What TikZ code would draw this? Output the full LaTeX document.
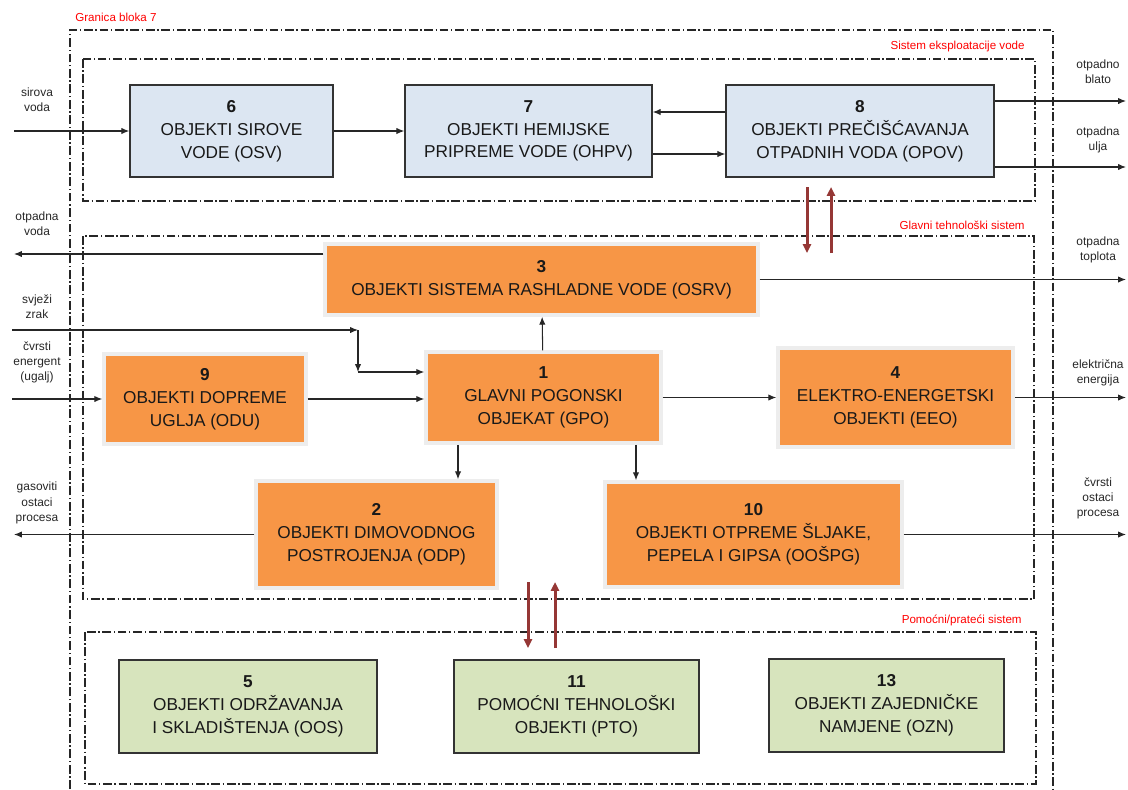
\documentclass[tikz,border=0pt]{standalone}
\usepackage{fontspec}
\setmainfont{Liberation Sans}
\usetikzlibrary{arrows.meta,positioning,shadows}

\definecolor{bluebox}{HTML}{DCE6F2}
\definecolor{orangebox}{HTML}{F79646}
\definecolor{greenbox}{HTML}{D7E4BD}
\definecolor{redarrow}{HTML}{953735}
\newcommand{\objfont}{\fontsize{9.8}{13}\selectfont}
\newcommand{\lblfont}{\fontsize{6.8}{8.6}\selectfont}

\begin{document}
\begin{tikzpicture}[x=0.02cm, y=-0.02cm]

		\tikzstyle{water}=[rectangle, fill=bluebox, draw=black!80, line width=0.8pt, align=center, text=black!90, font=\objfont, inner sep=0pt]
		\tikzstyle{main}=[rectangle, fill=orangebox, draw=black!7, line width=2pt, align=center, text=black!90, font=\objfont, inner sep=0pt, drop shadow={shadow xshift=0.4pt, shadow yshift=-1.3pt, fill=brown!70!black, opacity=0.45}]
		\tikzstyle{aux}=[rectangle, fill=greenbox, draw=black!80, line width=0.8pt, align=center, text=black!90, font=\objfont, inner sep=0pt]
		\tikzstyle{border}=[black!85, line width=0.6pt, dash pattern=on 5pt off 1.5pt on 0.8pt off 1.5pt]
		\tikzstyle{syslabel}=[red, font=\fontsize{6.6}{8}\selectfont, inner sep=0pt]
		\tikzstyle{lbl}=[align=center, text=black!85, font=\lblfont, inner sep=0pt]
		\tikzstyle{flow}=[-{Latex[length=4.5pt, width=3.6pt]}, black!85, line width=0.6pt]
		\tikzstyle{link}=[-{Triangle[length=5pt, width=4.5pt]}, redarrow, line width=1.7pt]

		\useasboundingbox (0,0) rectangle (1128,789);

		% system borders
		\draw[border] (70,789) -- (70,30) -- (1053,30) -- (1053,789);
		\draw[border] (83,59) rectangle (1035,201);
		\draw[border] (83,236) rectangle (1034,599);
		\draw[border] (85,632) rectangle (1036,784);

		\node[syslabel, anchor=west] (lb7) at (75,17) {Granica bloka 7};
		\node[syslabel, anchor=east] (lsev) at (1025,46) {Sistem eksploatacije vode};
		\node[syslabel, anchor=east] (lgts) at (1025,225) {Glavni tehnološki sistem};
		\node[syslabel, anchor=east] (lpps) at (1022,620) {Pomoćni/prateći sistem};

		% water system
		\node[water, minimum width=4.06cm, minimum height=1.84cm] (b6) at (231.5,131) {\textbf{6}\\OBJEKTI SIROVE\\VODE (OSV)};
		\node[water, minimum width=4.94cm, minimum height=1.84cm] (b7) at (528.5,131) {\textbf{7}\\OBJEKTI HEMIJSKE\\PRIPREME VODE (OHPV)};
		\node[water, minimum width=5.36cm, minimum height=1.84cm] (b8) at (860,131) {\textbf{8}\\OBJEKTI PREČIŠĆAVANJA\\OTPADNIH VODA (OPOV)};

		% main technological system
		\node[main, minimum width=8.66cm, minimum height=1.42cm] (b3) at (541.5,279.5) {\textbf{3}\\OBJEKTI SISTEMA RASHLADNE VODE (OSRV)};
		\node[main, minimum width=4.7cm, minimum height=1.82cm] (b1) at (543.5,397.5) {\textbf{1}\\GLAVNI POGONSKI\\OBJEKAT (GPO)};
		\node[main, minimum width=4.04cm, minimum height=1.8cm] (b9) at (205,399) {\textbf{9}\\OBJEKTI DOPREME\\UGLJA (ODU)};
		\node[main, minimum width=4.7cm, minimum height=1.98cm] (b4) at (895.5,397.5) {\textbf{4}\\ELEKTRO-ENERGETSKI\\OBJEKTI (EEO)};
		\node[main, minimum width=4.82cm, minimum height=2.14cm] (b2) at (376.5,534.5) {\textbf{2}\\OBJEKTI DIMOVODNOG\\POSTROJENJA (ODP)};
		\node[main, minimum width=5.94cm, minimum height=2.1cm] (b10) at (753.5,534.5) {\textbf{10}\\OBJEKTI OTPREME ŠLJAKE,\\PEPELA I GIPSA (OOŠPG)};

		% auxiliary system
		\node[aux, minimum width=5.16cm, minimum height=1.86cm] (b5) at (248,706.5) {\textbf{5}\\OBJEKTI ODRŽAVANJA\\I SKLADIŠTENJA (OOS)};
		\node[aux, minimum width=4.9cm, minimum height=1.86cm] (b11) at (576.5,706.5) {\textbf{11}\\POMOĆNI TEHNOLOŠKI\\OBJEKTI (PTO)};
		\node[aux, minimum width=4.7cm, minimum height=1.86cm] (b13) at (886.5,705.5) {\textbf{13}\\OBJEKTI ZAJEDNIČKE\\NAMJENE (OZN)};

		% inputs and outputs
		\node[lbl] (lsv) at (37,99.5) {sirova\\voda};
		\node[lbl] (lov) at (37,223.5) {otpadna\\voda};
		\node[lbl] (lsz) at (37,307) {svježi\\zrak};
		\node[lbl] (lce) at (37,362.5) {čvrsti\\energent\\(ugalj)};
		\node[lbl] (lgo) at (37,503) {gasoviti\\ostaci\\procesa};
		\node[lbl] (lob) at (1098,71.5) {otpadno\\blato};
		\node[lbl] (lou) at (1098,139.5) {otpadna\\ulja};
		\node[lbl] (lot) at (1098,250) {otpadna\\toplota};
		\node[lbl] (lee) at (1098,372.5) {električna\\energija};
		\node[lbl] (lco) at (1098,498.5) {čvrsti\\ostaci\\procesa};

		\coordinate (outL) at (14,0);
		\coordinate (outR) at (1126,0);
		\coordinate (inW) at (14,131);
		\coordinate (inA) at (12,330);
		\coordinate (bendA) at (358,330);
		\coordinate (turnA) at (358,372);
		\coordinate (inC) at (12,399);

		\draw[flow] (inW) -- (b6);
		\draw[flow] (b6) -- (b7);
		\draw[flow] ([yshift=0.38cm]b8.west) -- ([yshift=0.38cm]b8.west -| b7.east);
		\draw[flow] ([yshift=-0.46cm]b7.east) -- ([yshift=-0.46cm]b7.east -| b8.west);
		\draw[flow] ([yshift=0.6cm]b8.east) -- ([yshift=0.6cm]b8.east -| outR);
		\draw[flow] ([yshift=-0.72cm]b8.east) -- ([yshift=-0.72cm]b8.east -| outR);

		\draw[flow] ([yshift=0.51cm]b3.west) -- ([yshift=0.51cm]b3.west -| outL);
		\draw[flow] (b3.east) -- (b3.east -| outR);
		\draw[flow] (b1) -- (b3);

		\draw[flow] (inA) -- (bendA);
		\draw[flow] (bendA) -- (turnA);
		\draw[flow] (turnA) -- (turnA -| b1.west);
		\draw[flow] (inC) -- (b9);
		\draw[flow] (b9) -- (b9 -| b1.west);
		\draw[flow] (b1.east) -- (b1.east -| b4.west);
		\draw[flow] (b4.east) -- (b4.east -| outR);

		\draw[flow] ([xshift=-1.71cm]b1.south) -- ([xshift=-1.71cm]b1.south |- b2.north);
		\draw[flow] ([xshift=1.85cm]b1.south) -- ([xshift=1.85cm]b1.south |- b10.north);
		\draw[flow] (b2.west) -- (b2.west -| outL);
		\draw[flow] (b10.east) -- (b10.east -| outR);

		% links between systems
		\coordinate (w1) at (807,187);
		\coordinate (w2) at (807,253);
		\coordinate (w3) at (831,253);
		\coordinate (w4) at (831,187);
		\coordinate (p1) at (528,582);
		\coordinate (p2) at (528,648);
		\coordinate (p3) at (555,648);
		\coordinate (p4) at (555,582);
		\draw[link] (w1) -- (w2);
		\draw[link] (w3) -- (w4);
		\draw[link] (p1) -- (p2);
		\draw[link] (p3) -- (p4);

\end{tikzpicture}
\end{document}
